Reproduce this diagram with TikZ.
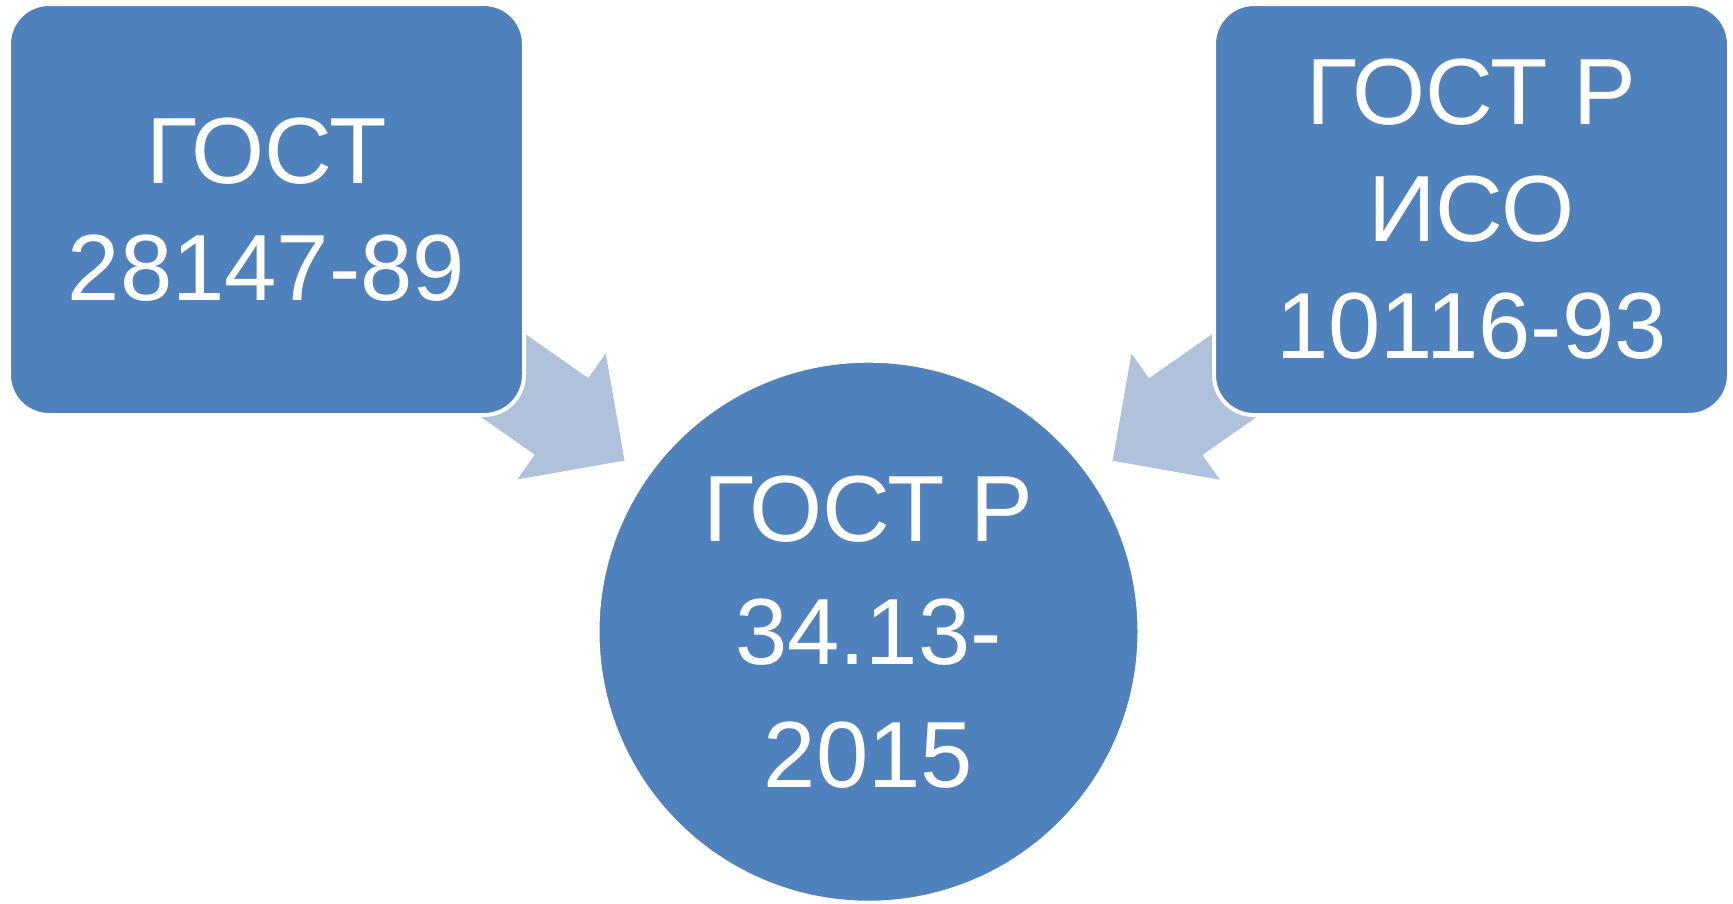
\documentclass[tikz,border=0pt]{standalone}
\usepackage{fontspec}
\setmainfont{Liberation Sans}
\usetikzlibrary{positioning,calc,backgrounds}
\definecolor{boxblue}{RGB}{79,129,189}
\definecolor{arrowblue}{RGB}{176,193,220}
\begin{document}
\begin{tikzpicture}[
        x=1pt, y=-1pt,
        box/.style={rectangle, rounded corners=40pt, minimum width=515pt, minimum height=411pt, inner sep=0pt, outer sep=0pt, align=center, draw=white, line width=4pt, fill=boxblue, text=white, font=\fontsize{94}{117}\selectfont},
        disc/.style={circle, minimum size=542pt, inner sep=0pt, outer sep=0pt, align=center, draw=white, line width=4pt, fill=boxblue, text=white, font=\fontsize{94}{123}\selectfont},
        flow/.style={fill=arrowblue}
    ]
        \useasboundingbox (0,0) rectangle (1733,903);

        % Sources
        \node (gost89) [box] at (266.5,209.5) {ГОСТ\\28147-89};
        \node (gostiso) [box, right=690pt of gost89] {ГОСТ Р\\ИСО\\10116-93};

        % Result
        \node (gost2015) [disc] at (868.5,631.7) {ГОСТ Р\\34.13-\\2015};

        % Block arrows, behind the boxes
        \begin{scope}[on background layer]
            \foreach \src in {gost89, gostiso} {
                \coordinate (tip) at ($(gost2015.center)!298pt!(\src.center)$);
                \coordinate (head) at ($(tip)!77pt!(\src.center)$);
                \coordinate (tail) at ($(tip)!200pt!(\src.center)$);
                \fill[flow] (tip)
                    -- ($(head)!77pt!90:(\src.center)$)
                    -- ($(head)!46.7pt!90:(\src.center)$)
                    -- ($(tail)!46.7pt!90:(\src.center)$)
                    -- ($(tail)!46.7pt!-90:(\src.center)$)
                    -- ($(head)!46.7pt!-90:(\src.center)$)
                    -- ($(head)!77pt!-90:(\src.center)$)
                    -- cycle;
            }
        \end{scope}
    \end{tikzpicture}
\end{document}
